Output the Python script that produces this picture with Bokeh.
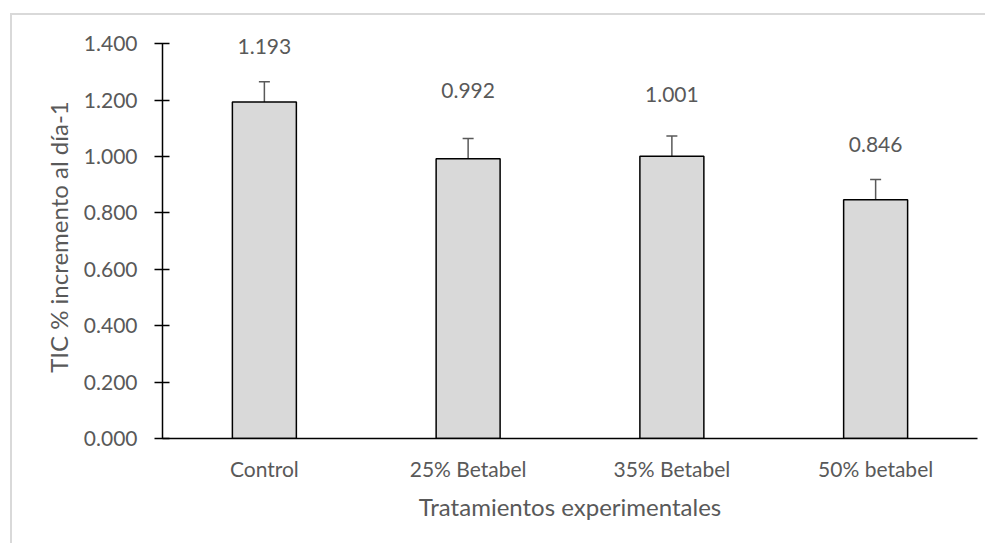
from bokeh.plotting import figure
from bokeh.models import (ColumnDataSource, FactorRange, Whisker, TeeHead, LabelSet,
                          FixedTicker, CustomJSTickFormatter)
from bokeh.core.properties import value
from bokeh.embed import file_html
from bokeh.resources import INLINE

categories = ["Control", "25% Betabel", "35% Betabel", "50% betabel"]
values = [1.193, 0.992, 1.001, 0.846]
errors = [0.072, 0.072, 0.071, 0.072]
value_labels = ["1.193", "0.992", "1.001", "0.846"]
y_ticks = [0.0, 0.2, 0.4, 0.6, 0.8, 1.0, 1.2, 1.4]
label_offsets = [55, 68, 62, 55]

FONT = "Lato"
TXT = "#595959"

src = ColumnDataSource(dict(
    cat=categories,
    val=values,
    upper=[v + e for v, e in zip(values, errors)],
    lab=value_labels,
    off=label_offsets,
))

p = figure(
    width=975, height=530,
    x_range=FactorRange(*categories, range_padding=0),
    y_range=(0, 1.45),
    output_backend="svg", toolbar_location=None,
    min_border_left=150, min_border_right=10, min_border_top=14, min_border_bottom=107,
)
p.styles = {"border-left": "2px solid #d9d9d9", "border-top": "2px solid #d9d9d9",
            "margin-left": "10px", "margin-top": "13px"}
p.outline_line_color = None
p.xgrid.visible = False
p.ygrid.visible = False

p.vbar(x="cat", top="val", width=0.314, source=src,
       fill_color="#d9d9d9", line_color="#000000", line_width=1.5)

w = Whisker(base="cat", upper="upper", lower="val", source=src,
            line_color="#595959", line_width=1.5,
            upper_head=TeeHead(size=11, line_color="#595959", line_width=1.5),
            lower_head=None)
p.add_layout(w)

labels = LabelSet(x="cat", y="val", text="lab", y_offset="off", source=src,
                  text_align="center", text_baseline="middle",
                  text_font=value(FONT), text_font_size="21px", text_color=TXT)
p.add_layout(labels)

p.yaxis.bounds = (0, 1.4)
p.yaxis.ticker = FixedTicker(ticks=y_ticks)
p.yaxis.formatter = CustomJSTickFormatter(code="return tick.toFixed(3);")
p.yaxis.minor_tick_line_color = None
p.yaxis.major_tick_in = 7
p.yaxis.major_tick_out = 8
p.yaxis.major_tick_line_color = "#000000"
p.yaxis.major_tick_line_width = 1.5
p.yaxis.axis_line_color = "#000000"
p.yaxis.axis_line_width = 1.5
p.yaxis.major_label_text_font = FONT
p.yaxis.major_label_text_font_size = "21px"
p.yaxis.major_label_text_color = TXT
p.yaxis.major_label_standoff = 17
p.yaxis.axis_label = "TIC  % incremento al día-1"
p.yaxis.axis_label_text_font = FONT
p.yaxis.axis_label_text_font_size = "24px"
p.yaxis.axis_label_text_font_style = "normal"
p.yaxis.axis_label_text_color = TXT
p.yaxis.axis_label_standoff = 8

p.xaxis.major_tick_line_color = None
p.xaxis.minor_tick_line_color = None
p.xaxis.axis_line_color = "#000000"
p.xaxis.axis_line_width = 1.5
p.xaxis.major_label_text_font = FONT
p.xaxis.major_label_text_font_size = "21px"
p.xaxis.major_label_text_color = TXT
p.xaxis.major_label_standoff = 11
p.xaxis.axis_label = "Tratamientos experimentales"
p.xaxis.axis_label_text_font = FONT
p.xaxis.axis_label_text_font_size = "24px"
p.xaxis.axis_label_text_font_style = "normal"
p.xaxis.axis_label_text_color = TXT
p.xaxis.axis_label_standoff = 8

open("out.html", "w").write(file_html(p, INLINE))
